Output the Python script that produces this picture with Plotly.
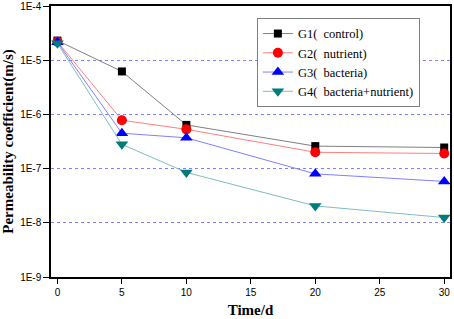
import plotly.graph_objects as go

days = [0, 5, 10, 20, 30]
g1_control = [2.3e-5, 6.2e-6, 6.4e-7, 2.6e-7, 2.45e-7]
g2_nutrient = [2.2e-5, 7.8e-7, 5.3e-7, 2.0e-7, 1.9e-7]
g3_bacteria = [2.15e-5, 4.5e-7, 3.7e-7, 8.0e-8, 5.8e-8]
g4_bact_nutr = [2.05e-5, 2.8e-7, 8.5e-8, 2.05e-8, 1.25e-8]

names = ["G1(\u00a0\u00a0control)", "G2(\u00a0\u00a0nutrient)",
         "G3(\u00a0\u00a0bacteria)", "G4(\u00a0\u00a0bacteria+nutrient)"]
series = [g1_control, g2_nutrient, g3_bacteria, g4_bact_nutr]
marker_colors = ["#000000", "#ff0000", "#0000ff", "#007b7b"]
line_colors = ["#7f7f7f", "#ff7f7f", "#7f7fff", "#7fbdbd"]
symbols = ["square", "circle", "triangle-up", "triangle-down"]
sizes = [8, 10, 11, 11]

y_tick_vals = [1e-9, 1e-8, 1e-7, 1e-6, 1e-5, 1e-4]
y_tick_text = ["1E-9", "1E-8", "1E-7", "1E-6", "1E-5", "1E-4"]
x_tick_vals = [0, 5, 10, 15, 20, 25, 30]

fig = go.Figure()
for name, ys, mc, lc, sym, sz in zip(names, series, marker_colors, line_colors, symbols, sizes):
    fig.add_trace(go.Scatter(
        x=days, y=ys, name=name, mode="lines+markers",
        line=dict(color=lc, width=1),
        marker=dict(color=mc, symbol=sym, size=sz, line=dict(width=0)),
    ))

fig.update_layout(
    width=454, height=319,
    margin=dict(l=51, r=4, t=6, b=42),
    paper_bgcolor="white", plot_bgcolor="white",
    font=dict(family="Liberation Sans, Arial", size=10, color="black"),
    showlegend=True,
    legend=dict(
        x=0.516, y=0.956, xanchor="left", yanchor="top",
        bgcolor="white", bordercolor="#808080", borderwidth=1,
        font=dict(family="Liberation Serif, Times New Roman", size=12.5, color="black"),
        tracegroupgap=0, itemwidth=30,
    ),
)

fig.update_xaxes(
    range=[-0.5, 30.45], tickvals=x_tick_vals, automargin=False,
    showgrid=False, zeroline=False,
    showline=True, linecolor="black", linewidth=1.5, mirror=True,
    ticks="outside", ticklen=5, tickcolor="black", tickwidth=1,
    title=dict(text="<b>Time/d</b>", font=dict(family="Liberation Serif, Times New Roman", size=15), standoff=8),
)
fig.update_yaxes(
    type="log", range=[-9, -4], tickvals=y_tick_vals, ticktext=y_tick_text, automargin=False,
    showgrid=True, gridcolor="#8080ff", griddash="dot", gridwidth=1,
    zeroline=False,
    showline=True, linecolor="black", linewidth=1.5, mirror=True,
    ticks="outside", ticklen=6, tickcolor="black", tickwidth=1,
    title=dict(text="<b>Permeability coefficient(m/s)</b>", font=dict(family="Liberation Serif, Times New Roman", size=15), standoff=6),
)

fig.write_html("out.html", post_script="document.body.style.margin='0px';",
               config={"displayModeBar": False})
